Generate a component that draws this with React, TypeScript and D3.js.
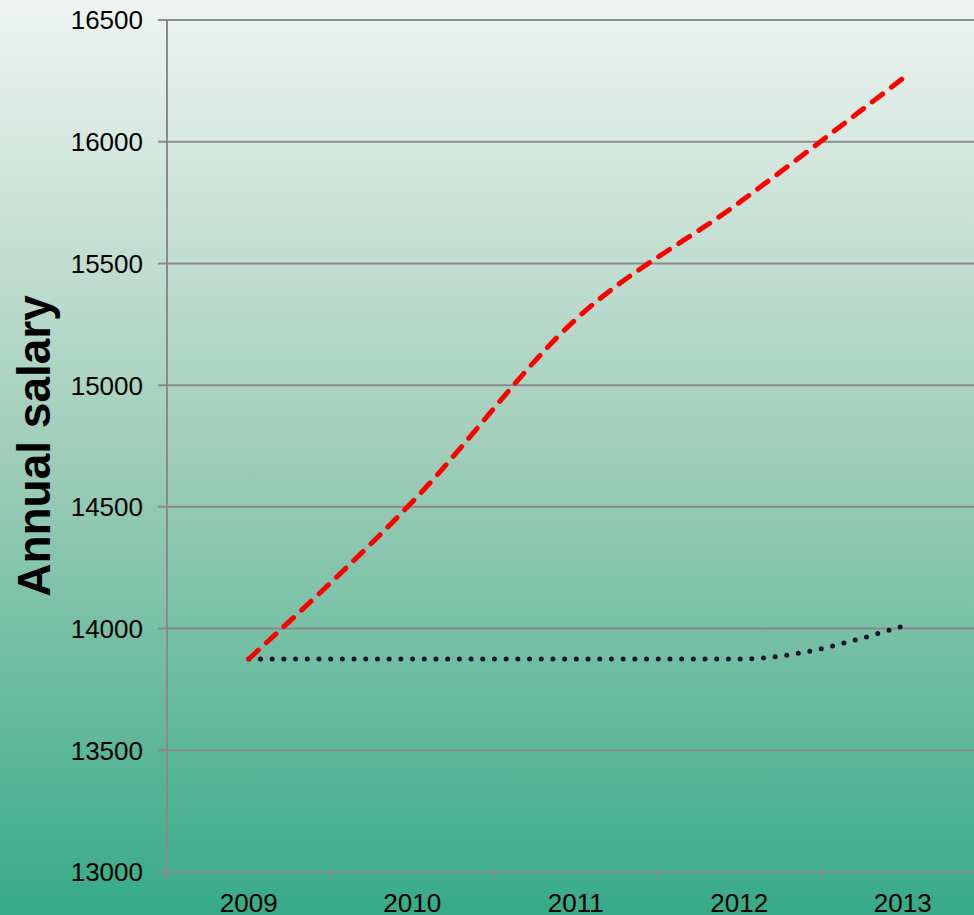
import React from "react";
import * as d3 from "d3";

const years = ["2009", "2010", "2011", "2012", "2013"];
const redSeries = [13875, 14520, 15270, 15750, 16260];
const blackSeries = [13875, 13875, 13875, 13875, 14010];
const yTicks = [13000, 13500, 14000, 14500, 15000, 15500, 16000, 16500];

const W = 974;
const H = 915;
const left = 167;
const band = 163.5;
const top = 20;
const bottom = 872;
const font = "Arial, 'Liberation Sans', sans-serif";
const gridColor = "#8a8a8a";

export default function App() {
  const x = d3
    .scaleBand<string>()
    .domain(years)
    .range([left, left + band * years.length])
    .padding(0);
  const y = d3.scaleLinear().domain([13000, 16500]).range([bottom, top]);
  const cx = (d: string) => (x(d) as number) + x.bandwidth() / 2;

  const line = d3
    .line<number>()
    .x((_, i) => cx(years[i]))
    .y((v) => y(v))
    .curve(d3.curveMonotoneX);

  const boundaries = years.map((d) => x(d) as number).concat([left + band * years.length]);

  return (
    <svg
      width={W}
      height={H}
      style={{ position: "absolute", left: 0, top: 0 }}
    >
      <defs>
        <linearGradient id="bg" x1="0" y1="0" x2="0" y2="1">
          <stop offset="0" stopColor="#eff4f2" />
          <stop offset="0.5" stopColor="#9ecdb9" />
          <stop offset="1" stopColor="#37aa87" />
        </linearGradient>
      </defs>
      <rect x={0} y={0} width={W} height={H} fill="url(#bg)" />
      {yTicks.map((t) => (
        <g key={t}>
          <line x1={158} x2={W} y1={y(t)} y2={y(t)} stroke={gridColor} strokeWidth={2} />
          <text
            x={143}
            y={y(t)}
            dy="0.36em"
            textAnchor="end"
            fontFamily={font}
            fontSize={26}
            fill="#000"
          >
            {t}
          </text>
        </g>
      ))}
      <line x1={left} x2={left} y1={top} y2={879} stroke={gridColor} strokeWidth={2} />
      {boundaries.map((b, i) => (
        <line key={i} x1={b} x2={b} y1={bottom} y2={879} stroke={gridColor} strokeWidth={2} />
      ))}
      {years.map((d) => (
        <text
          key={d}
          x={cx(d)}
          y={912}
          textAnchor="middle"
          fontFamily={font}
          fontSize={26}
          fill="#000"
        >
          {d}
        </text>
      ))}
      <text
        transform={`translate(50,446) rotate(-90)`}
        textAnchor="middle"
        fontFamily={font}
        fontSize={46}
        fontWeight="bold"
        fill="#000"
      >
        Annual salary
      </text>
      <path
        d={line(blackSeries) || ""}
        fill="none"
        stroke="#1a1230"
        strokeWidth={5}
        strokeLinecap="round"
        strokeDasharray="0 11.7"
      />
      <path
        d={line(redSeries) || ""}
        fill="none"
        stroke="#ff0000"
        strokeWidth={5}
        strokeLinecap="round"
        strokeDasharray="13 11"
      />
    </svg>
  );
}
